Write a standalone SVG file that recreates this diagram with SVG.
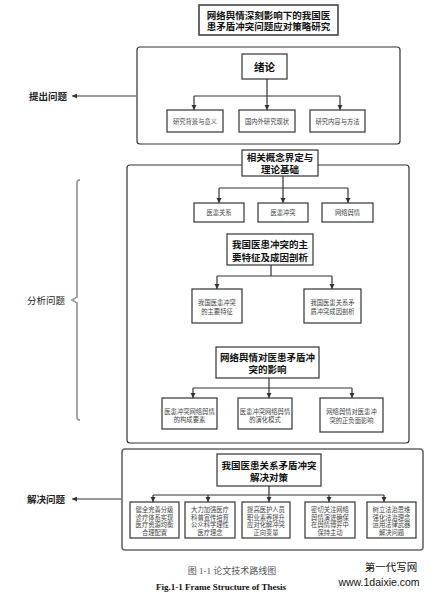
<svg xmlns="http://www.w3.org/2000/svg" width="435" height="594" viewBox="0 0 435 594">
<style>
.bg{fill:#fff}
.box{fill:#fff;stroke:#333;stroke-width:1.2}
.tbox{fill:#fff;stroke:#444;stroke-width:1.6}
.cont{fill:#fff;stroke:#333;stroke-width:1.2}
.cont3{fill:#fff;stroke:#666;stroke-width:1.6}
.con{fill:none;stroke:#333;stroke-width:1.2}
.arr{fill:none;stroke:#777;stroke-width:1.3}
text{font-family:"Liberation Sans","Noto Sans CJK SC",sans-serif;text-anchor:middle;dominant-baseline:central}
.t1{font-size:9.5px;font-weight:bold;fill:#111}
.t2{font-size:6.3px;fill:#444}
.lab{font-size:9.5px;fill:#222;font-weight:bold}
.cap{font-family:"Liberation Serif","Noto Sans CJK SC",serif;font-size:9px;fill:#555}
.wm{font-size:10.5px;fill:#111}
</style>
<defs>
<marker id="ah" viewBox="0 0 10 10" refX="10" refY="5" markerWidth="5" markerHeight="6" orient="auto" markerUnits="userSpaceOnUse">
<path d="M0,0 L10,5 L0,10 z" fill="#333"/>
</marker>
<marker id="ahl" viewBox="0 0 10 10" refX="10" refY="5" markerWidth="7" markerHeight="5" orient="auto" markerUnits="userSpaceOnUse">
<path d="M0,0 L10,5 L0,10 z" fill="#333"/>
</marker>
</defs>
<rect class="bg" x="0" y="0" width="435" height="594"/>

<!-- containers -->
<g id="container1"><rect class="cont" x="137" y="47" width="263" height="97" rx="3"/></g>
<g id="container2"><rect class="cont" x="127" y="165" width="282" height="278" rx="3"/></g>
<g id="container3"><rect class="cont3" x="122" y="449" width="301" height="101" rx="3"/></g>

<!-- connectors -->
<g id="connectors">
<path class="con" d="M267,79 V96 M194,96 H340"/>
<path class="con" d="M194,96 V110" marker-end="url(#ah)"/>
<path class="con" d="M267,96 V110" marker-end="url(#ah)"/>
<path class="con" d="M340,96 V110" marker-end="url(#ah)"/>

<path class="con" d="M283,176 V188 M219,188 H348"/>
<path class="con" d="M219,188 V203" marker-end="url(#ah)"/>
<path class="con" d="M283,188 V203" marker-end="url(#ah)"/>
<path class="con" d="M348,188 V203" marker-end="url(#ah)"/>

<path class="con" d="M271,265 V276 M217,276 H332"/>
<path class="con" d="M217,276 V289" marker-end="url(#ah)"/>
<path class="con" d="M332,276 V289" marker-end="url(#ah)"/>

<path class="con" d="M269,378 V388 M193,388 H352"/>
<path class="con" d="M193,388 V398" marker-end="url(#ah)"/>
<path class="con" d="M269,388 V398" marker-end="url(#ah)"/>
<path class="con" d="M352,388 V398" marker-end="url(#ah)"/>

<path class="con" d="M269,486 V495 M153,495 H384"/>
<path class="con" d="M153,495 V502" marker-end="url(#ah)"/>
<path class="con" d="M208,495 V502" marker-end="url(#ah)"/>
<path class="con" d="M269,495 V502" marker-end="url(#ah)"/>
<path class="con" d="M329,495 V502" marker-end="url(#ah)"/>
<path class="con" d="M384,495 V502" marker-end="url(#ah)"/>

<path class="arr" d="M137,96 H72" marker-end="url(#ahl)"/>
<path class="arr" d="M122,499 H72" marker-end="url(#ahl)"/>
<path d="M80,180 Q77,180 77,183 V297 L72,300 L77,303 V417 Q77,420 80,420" fill="none" stroke="#666" stroke-width="1.4"/>
<path d="M80,180 Q77,180 77,183 V297 L72,300 L77,303 V417 Q77,420 80,420" fill="none" stroke="#fff" stroke-width="0.4"/>
</g>

<!-- title -->
<g id="title">
<rect class="tbox" x="199" y="5" width="139" height="30"/>
<text class="t1" x="268.5" y="15">网络舆情深刻影响下的我国医</text>
<text class="t1" x="268.5" y="26">患矛盾冲突问题应对策略研究</text>
</g>

<!-- section 1 -->
<g id="n-xulun">
<rect class="box" x="242" y="54" width="45" height="25"/>
<text class="t1" x="264.5" y="66.5" style="font-size:10.5px">绪论</text>
</g>
<g id="n-bg">
<rect class="box" x="167" y="110" width="56" height="22"/>
<text class="t2" x="195" y="121">研究背景与意义</text>
</g>
<g id="n-status">
<rect class="box" x="239" y="110" width="56" height="22"/>
<text class="t2" x="267" y="121">国内外研究现状</text>
</g>
<g id="n-method">
<rect class="box" x="310" y="110" width="55" height="22"/>
<text class="t2" x="337.5" y="121">研究内容与方法</text>
</g>

<!-- section 2 -->
<g id="n-concept">
<rect class="box" x="242" y="150" width="76" height="26"/>
<text class="t1" x="280" y="157.5">相关概念界定与</text>
<text class="t1" x="280" y="169">理论基础</text>
</g>
<g id="n-yhgx">
<rect class="box" x="194" y="203" width="50" height="19"/>
<text class="t2" x="219" y="212.5">医患关系</text>
</g>
<g id="n-yhct">
<rect class="box" x="258" y="203" width="50" height="19"/>
<text class="t2" x="283" y="212.5">医患冲突</text>
</g>
<g id="n-wlyq">
<rect class="box" x="322" y="203" width="51" height="19"/>
<text class="t2" x="347.5" y="212.5">网络舆情</text>
</g>

<g id="n-feature">
<rect class="box" x="227" y="234" width="86" height="31"/>
<text class="t1" x="270" y="244">我国医患冲突的主</text>
<text class="t1" x="270" y="257">要特征及成因剖析</text>
</g>
<g id="n-feat1">
<rect class="box" x="192" y="289" width="50" height="34"/>
<text class="t2" x="217" y="302">我国医患冲突</text>
<text class="t2" x="217" y="311">的主要特征</text>
</g>
<g id="n-feat2">
<rect class="box" x="304" y="289" width="57" height="34"/>
<text class="t2" x="332.5" y="302">我国医患关系矛</text>
<text class="t2" x="332.5" y="311">盾冲突成因剖析</text>
</g>

<g id="n-impact">
<rect class="box" x="216" y="347" width="103" height="31"/>
<text class="t1" x="267.5" y="357">网络舆情对医患矛盾冲</text>
<text class="t1" x="267.5" y="369">突的影响</text>
</g>
<g id="n-imp1">
<rect class="box" x="162" y="398" width="55" height="31"/>
<text class="t2" x="189.5" y="411">医患冲突网络舆情</text>
<text class="t2" x="189.5" y="419.5">的构成要素</text>
</g>
<g id="n-imp2">
<rect class="box" x="238" y="398" width="54" height="31"/>
<text class="t2" x="265" y="411">医患冲突网络舆情</text>
<text class="t2" x="265" y="419.5">的演化模式</text>
</g>
<g id="n-imp3">
<rect class="box" x="320" y="398" width="63" height="34"/>
<text class="t2" x="351.5" y="411">网络舆情对医患冲</text>
<text class="t2" x="351.5" y="420">突的正负面影响</text>
</g>

<!-- section 3 -->
<g id="n-solve">
<rect class="box" x="217" y="454" width="104" height="32"/>
<text class="t1" x="269" y="465">我国医患关系矛盾冲突</text>
<text class="t1" x="269" y="477">解决对策</text>
</g>
<g id="n-s1">
<rect class="box" x="130" y="502" width="49" height="36"/>
<text class="t2" x="154.5" y="509.5">健全完善分级</text>
<text class="t2" x="154.5" y="517">诊疗体系实现</text>
<text class="t2" x="154.5" y="524.5">医疗资源均衡</text>
<text class="t2" x="154.5" y="532">合理配置</text>
</g>
<g id="n-s2">
<rect class="box" x="185" y="502" width="50" height="36"/>
<text class="t2" x="210" y="509.5">大力加强医疗</text>
<text class="t2" x="210" y="517">科普宣传培育</text>
<text class="t2" x="210" y="524.5">公众科学理性</text>
<text class="t2" x="210" y="532">医疗理念</text>
</g>
<g id="n-s3">
<rect class="box" x="242" y="502" width="48" height="36"/>
<text class="t2" x="266" y="509.5">提高医护人员</text>
<text class="t2" x="266" y="517">职业素养提升</text>
<text class="t2" x="266" y="524.5">应对化解冲突</text>
<text class="t2" x="266" y="532">正向变量</text>
</g>
<g id="n-s4">
<rect class="box" x="305" y="502" width="50" height="36"/>
<text class="t2" x="330" y="509.5">密切关注网络</text>
<text class="t2" x="330" y="517">舆情演进确保</text>
<text class="t2" x="330" y="524.5">在舆情博弈中</text>
<text class="t2" x="330" y="532">保持主动</text>
</g>
<g id="n-s5">
<rect class="box" x="367" y="502" width="49" height="36"/>
<text class="t2" x="391.5" y="509.5">树立法治思维</text>
<text class="t2" x="391.5" y="517">强化法治理念</text>
<text class="t2" x="391.5" y="524.5">运用法律武器</text>
<text class="t2" x="391.5" y="532">解决问题</text>
</g>

<!-- side labels -->
<g id="labels">
<text class="lab" x="48" y="96">提出问题</text>
<text class="lab" x="46" y="300" style="font-weight:normal">分析问题</text>
<text class="lab" x="46" y="499">解决问题</text>
</g>

<!-- caption -->
<g id="caption">
<text class="cap" x="232" y="571">图 1-1 论文技术路线图</text>
<text class="cap" x="221" y="587" style="fill:#111;font-weight:bold">Fig.1-1 Frame Structure of Thesis</text>
<text class="wm" x="391" y="567">第一代写网</text>
<text class="wm" x="379" y="582">www.1daixie.com</text>
</g>
</svg>
